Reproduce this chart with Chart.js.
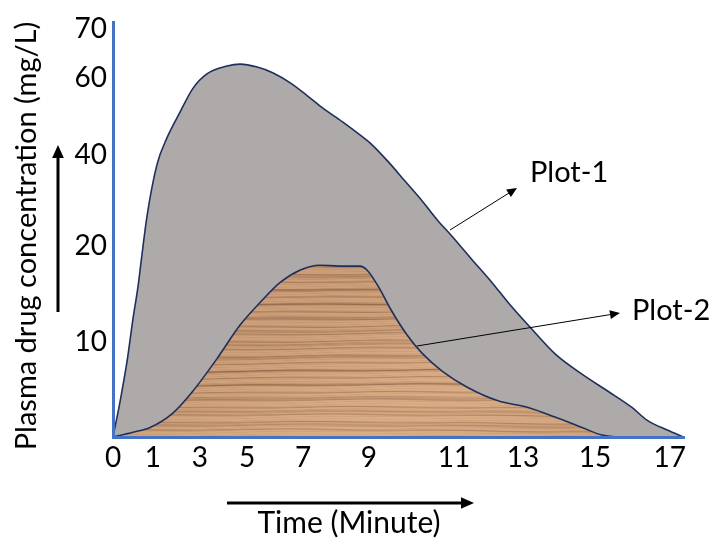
<!DOCTYPE html>
<html lang="en">
<head>
<meta charset="UTF-8">
<title>Plasma drug concentration vs time</title>
<script src="https://cdn.jsdelivr.net/npm/chart.js"></script>
<style>
  html, body { margin: 0; padding: 0; background: #fff; }
  #wrap { width: 715px; height: 545px; }
</style>
</head>
<body>
<div id="wrap"><canvas id="chart" width="715" height="545"></canvas></div>
<script>
// tick labels
const timeTicks = [0, 1, 3, 5, 7, 9, 11, 13, 15, 17];
const concTicks = [10, 20, 40, 60, 70];

// Plot-1 (grey area)
const plot1Time = [0, 0.18, 0.35, 0.5, 0.63, 0.71, 0.85, 1.17, 1.6, 2.15, 2.7, 3.3, 4.15, 4.7, 5.36, 5.93, 6.54, 7.12, 7.6, 8.2, 8.73, 9.07, 9.45, 9.85, 10.25, 10.62, 10.95, 11.52, 12.1, 12.57, 13.25, 13.9, 14.64, 15.35, 15.99, 16.4, 16.95, 17.35];
const plot1Conc = [0, 3.8, 7.9, 12.4, 15.9, 18.6, 26.5, 37.8, 44.4, 51.0, 57.2, 60.8, 62.4, 62.8, 62.2, 61.0, 58.7, 55.4, 52.1, 48.5, 45.1, 42.6, 38.5, 34.2, 29.9, 25.6, 22.2, 18.6, 16.2, 14.1, 11.3, 8.7, 6.6, 4.8, 3.1, 1.75, 0.7, 0];

// Plot-2 (wood area)
const plot2Time = [0, 0.5, 0.93, 1.85, 2.7, 3.72, 4.7, 5.46, 6.18, 6.9, 7.5, 8.1, 8.73, 8.97, 9.26, 9.5, 9.9, 10.25, 10.73, 11.4, 12.28, 13.14, 13.89, 14.64, 15.19, 15.59];
const plot2Conc = [0, 0.5, 1.0, 2.5, 4.8, 8.2, 11.75, 14.1, 16.2, 17.5, 18.0, 17.9, 17.9, 17.4, 15.5, 13.5, 10.7, 8.8, 6.9, 5.2, 3.8, 3.1, 2.1, 1.0, 0.2, 0];

// the drawn axes are not evenly spaced: [value, fraction of axis length]
const axisStops = {
  x: [[0, 0], [1, 0.070], [3, 0.152], [5, 0.235], [7, 0.333], [9, 0.448], [11, 0.597], [13, 0.718], [15, 0.844], [17, 0.975], [17.37, 1]],
  y: [[0, 0], [10, 0.230], [20, 0.461], [40, 0.682], [60, 0.867], [70, 0.986], [71.2, 1]]
};

class PiecewiseScale extends Chart.LinearScale {
  static id = 'piecewise';
  static defaults = Chart.LinearScale.defaults;

  toDecimal(v) {
    const a = axisStops[this.id];
    if (v <= a[0][0]) return a[0][1];
    for (let i = 1; i < a.length; i++) {
      if (v <= a[i][0]) {
        const t = (v - a[i - 1][0]) / (a[i][0] - a[i - 1][0]);
        return a[i - 1][1] + t * (a[i][1] - a[i - 1][1]);
      }
    }
    return a[a.length - 1][1];
  }
  getPixelForValue(v) {
    return this.getPixelForDecimal(this.toDecimal(v));
  }
  getValueForPixel(p) {
    const d = this.getDecimalForPixel(p);
    const a = axisStops[this.id];
    for (let i = 1; i < a.length; i++) {
      if (d <= a[i][1]) {
        const t = (d - a[i - 1][1]) / (a[i][1] - a[i - 1][1]);
        return a[i - 1][0] + t * (a[i][0] - a[i - 1][0]);
      }
    }
    return a[a.length - 1][0];
  }
}
Chart.register(PiecewiseScale);

// wood texture for Plot-2
function makeWood(w, h) {
  const c = document.createElement('canvas');
  c.width = w; c.height = h;
  const g = c.getContext('2d');
  const img = g.createImageData(w, h);
  for (let y = 0; y < h; y++) {
    for (let x = 0; x < w; x++) {
      const k = y + 1.2 * Math.sin(x / 110 + y / 37) + 0.5 * Math.sin(x / 27 + y / 9);
      const grain = 0.55 * Math.pow(Math.abs(Math.sin(k * 0.42)), 16)
                  + 0.45 * Math.pow(Math.abs(Math.sin(k * 0.23 + 1.1)), 20)
                  + 0.2 * Math.pow(Math.abs(Math.sin(k * 1.3 + x / 60)), 6);
      const shade = 0.5 + 0.5 * Math.sin(x / 120 + y / 55);
      const i = (y * w + x) * 4;
      img.data[i]     = 220 - grain * 55 - shade * 14;
      img.data[i + 1] = 174 - grain * 52 - shade * 14;
      img.data[i + 2] = 134 - grain * 44 - shade * 12;
      img.data[i + 3] = 255;
    }
  }
  g.putImageData(img, 0, 0);
  return c;
}

const ctx = document.getElementById('chart').getContext('2d');
const woodPattern = ctx.createPattern(makeWood(715, 545), 'no-repeat');

function arrow(c, x1, y1, x2, y2, lw, head) {
  const ang = Math.atan2(y2 - y1, x2 - x1);
  c.strokeStyle = '#000';
  c.fillStyle = '#000';
  c.lineWidth = lw;
  c.beginPath();
  c.moveTo(x1, y1);
  c.lineTo(x2 - Math.cos(ang) * head * 0.8, y2 - Math.sin(ang) * head * 0.8);
  c.stroke();
  c.beginPath();
  c.moveTo(x2, y2);
  c.lineTo(x2 - head * Math.cos(ang) + head * 0.45 * Math.sin(ang), y2 - head * Math.sin(ang) - head * 0.45 * Math.cos(ang));
  c.lineTo(x2 - head * Math.cos(ang) - head * 0.45 * Math.sin(ang), y2 - head * Math.sin(ang) + head * 0.45 * Math.cos(ang));
  c.closePath();
  c.fill();
}

const annotations = {
  id: 'annotations',
  afterDraw(chart) {
    const c = chart.ctx;
    c.save();
    arrow(c, 450, 230, 517, 188, 1, 10);
    arrow(c, 417, 346, 620, 313, 1, 10);
    arrow(c, 58, 312, 58, 145, 3, 13);
    arrow(c, 227, 503, 474, 503, 3, 13);
    c.fillStyle = '#000';
    c.font = '29px Lato';
    c.textBaseline = 'middle';
    c.textAlign = 'left';
    c.fillText('Plot-1', 530, 173);
    c.fillText('Plot-2', 632, 311);
    c.textAlign = 'center';
    c.font = '30px Lato';
    c.fillText('Time (Minute)', 349, 523);
    c.translate(27, 236);
    c.rotate(-Math.PI / 2);
    c.font = '29px Lato';
    c.fillText('Plasma drug concentration (mg/L)', 0, 0);
    c.restore();
  }
};

const outline = '#1f2f5c';

new Chart(ctx, {
  type: 'line',
  data: {
    datasets: [
      {
        label: 'Plot-2',
        data: plot2Time.map((t, i) => ({ x: t, y: plot2Conc[i] })),
        borderColor: outline,
        borderWidth: 1.6,
        backgroundColor: woodPattern,
        fill: 'origin',
        pointRadius: 0,
        cubicInterpolationMode: 'monotone',
        order: 0
      },
      {
        label: 'Plot-1',
        data: plot1Time.map((t, i) => ({ x: t, y: plot1Conc[i] })),
        borderColor: outline,
        borderWidth: 1.6,
        backgroundColor: 'rgb(174, 170, 170)',
        fill: 'origin',
        pointRadius: 0,
        cubicInterpolationMode: 'monotone',
        order: 1
      }
    ]
  },
  options: {
    responsive: false,
    animation: false,
    layout: { padding: { top: 16, right: 31, left: 0, bottom: 0 } },
    plugins: {
      legend: { display: false },
      tooltip: { enabled: false }
    },
    scales: {
      x: {
        type: 'piecewise',
        min: 0,
        max: 17.37,
        grid: { display: false, drawTicks: false },
        border: { display: true, color: '#4472c4', width: 3, z: 1 },
        afterBuildTicks: s => { s.ticks = timeTicks.map(v => ({ value: v })); },
        afterFit: s => { s.height = 108; },
        ticks: {
          autoSkip: false,
          maxRotation: 0,
          padding: 4,
          color: '#000',
          font: { family: 'Lato', size: 28 },
          callback: v => String(v)
        }
      },
      y: {
        type: 'piecewise',
        min: 0,
        max: 71.2,
        grid: { display: false, drawTicks: false },
        border: { display: true, color: '#4472c4', width: 3, z: 1 },
        afterBuildTicks: s => { s.ticks = concTicks.map(v => ({ value: v })); },
        afterFit: s => { s.width = 113; },
        ticks: {
          autoSkip: false,
          padding: 6,
          color: '#000',
          font: { family: 'Lato', size: 28 },
          callback: v => String(v)
        }
      }
    }
  },
  plugins: [annotations]
});
</script>
</body>
</html>
